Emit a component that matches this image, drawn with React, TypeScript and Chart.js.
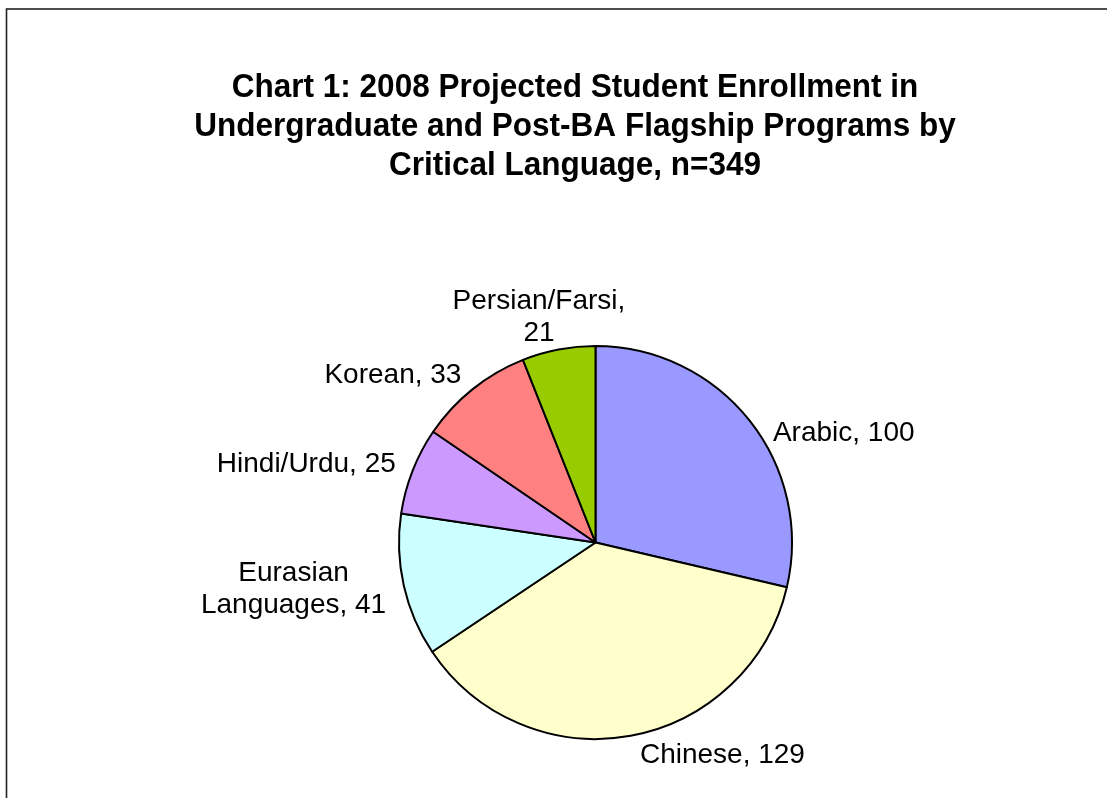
import React, { useEffect, useRef } from "react";
import { Chart, registerables } from "chart.js";

Chart.register(...registerables);

const categories = ["Arabic", "Chinese", "Eurasian Languages", "Hindi/Urdu", "Korean", "Persian/Farsi"];
const enrollment = [100, 129, 41, 25, 33, 21];
const sliceColors = ["#9999FF", "#FFFFCC", "#CCFFFF", "#CC99FF", "#FF8080", "#99CC00"];
const titleLines = [
  "Chart 1: 2008 Projected Student Enrollment in",
  "Undergraduate and Post-BA Flagship Programs by",
  "Critical Language, n=349",
];

const LABEL_FONT = "28px 'Liberation Sans', Arial, sans-serif";
const TITLE_FONT = "bold 33px 'Liberation Sans', Arial, sans-serif";

function wrapText(ctx: CanvasRenderingContext2D, text: string, maxWidth: number): string[] {
  const words = text.split(" ");
  const lines: string[] = [];
  let cur = "";
  for (const w of words) {
    const test = cur ? cur + " " + w : w;
    if (cur && ctx.measureText(test).width > maxWidth) {
      lines.push(cur);
      cur = w;
    } else cur = test;
  }
  if (cur) lines.push(cur);
  return lines;
}

const framePlugin = {
  id: "frameAndTitle",
  beforeDraw(chart: any) {
    const ctx = chart.ctx as CanvasRenderingContext2D;
    ctx.save();
    ctx.fillStyle = "#ffffff";
    ctx.fillRect(0, 0, chart.width, chart.height);
    ctx.strokeStyle = "#222";
    ctx.lineWidth = 1.6;
    ctx.strokeRect(6.5, 9, chart.width + 50, chart.height + 50);
    ctx.fillStyle = "#000";
    ctx.font = TITLE_FONT;
    ctx.textAlign = "center";
    ctx.textBaseline = "middle";
    const cx = 575;
    titleLines.forEach((t, i) => {
      ctx.save();
      ctx.translate(cx, 88 + i * 39);
      ctx.scale(0.955, 1);
      ctx.fillText(t, 0, 0);
      ctx.restore();
    });
    ctx.restore();
  },
};

const labelPlugin = {
  id: "outsideLabels",
  afterDraw(chart: any) {
    const ctx = chart.ctx as CanvasRenderingContext2D;
    const meta = chart.getDatasetMeta(0);
    ctx.save();
    ctx.font = LABEL_FONT;
    ctx.fillStyle = "#000";
    ctx.textBaseline = "middle";
    ctx.textAlign = "center";
    const lineH = 32;
    meta.data.forEach((arc: any, i: number) => {
      const { x, y, startAngle, endAngle, outerRadius } = arc.getProps(
        ["x", "y", "startAngle", "endAngle", "outerRadius"],
        true
      );
      const r = outerRadius;
      const mid = (startAngle + endAngle) / 2;
      const dx = Math.cos(mid);
      const dy = Math.sin(mid);
      const text = categories[i] + ", " + enrollment[i];
      const lines = wrapText(ctx, text, 190);
      const w = Math.max(...lines.map((l) => ctx.measureText(l).width));
      let cx: number;
      let firstY: number;
      if (dy < -0.9) {
        // top
        const px = x + dx * (r + 18);
        cx = px + dx * (w / 2);
        firstY = y - r - 13 - (lines.length - 1) * lineH;
      } else if (dy > 0.9) {
        // bottom
        const px = x + dx * (r + 18);
        cx = dx >= 0 ? px + 6 + w / 2 : px - 6 - w / 2;
        firstY = y + r + 16;
      } else if (dx > 0) {
        const R = r + 30;
        cx = x + dx * R + w / 2;
        firstY = y + dy * R + lineH - ((lines.length - 1) * lineH) / 2;
      } else {
        const R = r + 18;
        cx = x + dx * R - w / 2;
        firstY = y + dy * R - ((lines.length - 1) * lineH) / 2;
      }
      lines.forEach((l, k) => ctx.fillText(l, cx, firstY + k * lineH));
    });
    ctx.restore();
  },
};

export default function App() {
  const ref = useRef<HTMLCanvasElement | null>(null);
  useEffect(() => {
    if (!ref.current) return;
    const chart = new Chart(ref.current, {
      type: "pie",
      data: {
        labels: categories,
        datasets: [
          {
            data: enrollment,
            backgroundColor: sliceColors,
            borderColor: "#000",
            borderWidth: 2,
          },
        ],
      },
      options: {
        responsive: false,
        animation: false,
        devicePixelRatio: 1,
        layout: { padding: { left: 397, right: 313, top: 345, bottom: 58 } },
        plugins: {
          legend: { display: false },
          tooltip: { enabled: false },
          title: { display: false },
        },
      },
      plugins: [framePlugin, labelPlugin],
    });
    return () => chart.destroy();
  }, []);
  return (
    <div style={{ position: "absolute", left: 0, top: 0, width: 1107, height: 798, background: "#fff" }}>
      <canvas ref={ref} width={1107} height={798} />
    </div>
  );
}
